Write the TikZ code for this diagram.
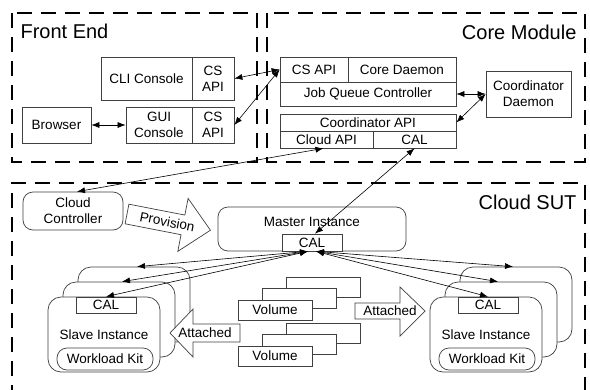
\documentclass[tikz,border=0pt]{standalone}
\usepackage{fontspec}
\setmainfont{Liberation Sans}
\usetikzlibrary{arrows.meta}
\begin{document}
\begin{tikzpicture}[x=1pt,y=-1pt,font=\fontsize{13.5}{16}\selectfont,
box/.style={draw=black!75,line width=.7pt,fill=white,inner sep=0pt,align=center},
rbox/.style={box,rounded corners=10pt},
region/.style={draw,line width=2.4pt,dash pattern=on 15pt off 9pt},
link/.style={line width=.6pt,{Latex[length=8pt,width=6pt]}-{Latex[length=8pt,width=6pt]}},
bigarrow/.style={draw=black!75,line width=.7pt,fill=white},
title/.style={font=\fontsize{20}{24}\selectfont}]
\useasboundingbox(0,0)rectangle(590,389);
\clip(0,0)rectangle(590,389);
\fill[white](0,0)rectangle(590,389);
\draw[region](12,13)rectangle(257,162);
\draw[region](267,13)rectangle(585,162);
\draw[region](12,400)--(12,183)--(585,183)--(585,400);
\node[title,anchor=west](fe)at(17,31){Front End};
\node[title,anchor=east](cm)at(580,32){Core Module};
\node[title,anchor=east](sut)at(580,202){Cloud SUT};
\node[box,minimum width=91pt,minimum height=43pt](cli)at(146.5,78.5){CLI Console};
\node[box,minimum width=42pt,minimum height=43pt](cliapi)at(213,78.5){CS\\API};
\node[box,minimum width=66pt,minimum height=36pt](gui)at(159,125){GUI\\Console};
\node[box,minimum width=42pt,minimum height=36pt](guiapi)at(213,125){CS\\API};
\node[box,minimum width=69pt,minimum height=36pt](browser)at(56.5,125){Browser};
\node[box,minimum width=68pt,minimum height=25pt](csapi)at(314,69.5){CS API};
\node[box,minimum width=108pt,minimum height=25pt](daemon)at(402,69.5){Core Daemon};
\node[box,minimum width=176pt,minimum height=24pt](jqc)at(368,94){Job Queue Controller};
\node[box,minimum width=176pt,minimum height=17pt](coordapi)at(368,122.5){Coordinator API};
\node[box,minimum width=93pt,minimum height=17pt](cloudapi)at(326.5,139.5){Cloud API};
\node[box,minimum width=83pt,minimum height=17pt](cal)at(414.5,139.5){CAL};
\node[box,minimum width=85pt,minimum height=46pt](coord)at(528.5,94){Coordinator\\Daemon};
\node[rbox,minimum width=100pt,minimum height=38pt](ctrl)at(73,211){Cloud\\Controller};
\node[rbox,minimum width=188pt,minimum height=44pt](master)at(312,229){};
\node(mtext)at(312,222){Master Instance};
\node[box,minimum width=60pt,minimum height=17pt](mcal)at(312,242.5){CAL};
\foreach \y in {310,356}{
\node[box,minimum width=74pt,minimum height=20pt](vol\y c)at({323},{\y-23}){};
\node[box,minimum width=74pt,minimum height=20pt](vol\y b)at({299},{\y-12}){};
\node[box,minimum width=74pt,minimum height=20pt](vol\y a)at({275},{\y}){Volume};
}
\foreach \x/\n in {104/l,486/r}{
\node[box,rounded corners=13pt,minimum width=112pt,minimum height=75pt](\n b)at({\x+30},304.5){};
\node[box,rounded corners=13pt,minimum width=112pt,minimum height=75pt](\n m)at({\x+15},319.5){};
\node[box,rounded corners=13pt,minimum width=112pt,minimum height=75pt](\n f)at({\x},334.5){};
\node[box,minimum width=60pt,minimum height=16pt](\n cal)at({\x+2},305){CAL};
\node(\n txt)at({\x},335){Slave Instance};
\node[rbox,minimum width=96pt,minimum height=22pt](\n kit)at({\x+1},359){Workload Kit};
}
\draw[link](browser)--(gui);
\draw[link](cliapi.east)--(csapi.west);
\draw[link](guiapi.east)--(csapi.west);
\draw[link](jqc.east)--(coord.west);
\draw[link](coordapi.east)--(coord.west);
\draw[link]([xshift=4pt]ctrl.north)--([xshift=-3pt]cloudapi.south);
\draw[link](cal.south)--([xshift=3pt]mcal.north);
\draw[link]([xshift=-4pt]mcal.south)--([xshift=3pt]lb.north);
\draw[link]([xshift=-4pt]mcal.south)--([xshift=3pt]lm.north);
\draw[link]([xshift=-4pt]mcal.south)--(lcal.north);
\draw[link]([xshift=4pt]mcal.south)--([xshift=-3pt]rb.north);
\draw[link]([xshift=4pt]mcal.south)--([xshift=-3pt]rm.north);
\draw[link]([xshift=4pt]mcal.south)--(rcal.north);
\begin{scope}[shift={(127,214)},rotate=-11]
\draw[bigarrow](0,-10)--(57,-10)--(57,-27)--(85,0)--(57,27)--(57,10)--(0,10)--cycle;
\node[rotate=-11](prov)at(41,0){Provision};
\end{scope}
\draw[bigarrow](170,333)--(193,309)--(193,324)--(240,324)--(240,342)--(193,342)--(193,357)--cycle;
\node(att1)at(205,333){Attached};
\draw[bigarrow](355,303)--(400,303)--(400,287)--(425,311)--(400,336)--(400,319)--(355,319)--cycle;
\node(att2)at(390,311){Attached};
\end{tikzpicture}
\end{document}
